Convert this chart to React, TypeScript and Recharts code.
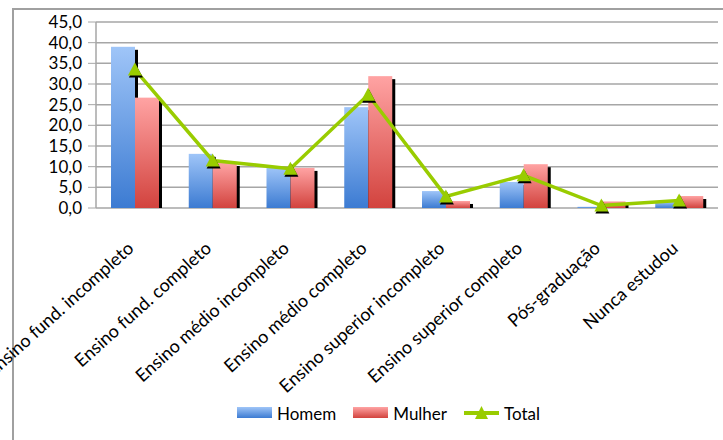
import React from 'react';
import { ComposedChart, Bar, Line, XAxis, YAxis, CartesianGrid, Legend } from 'recharts';

// Values (percent)
const categories = [
  'Ensino fund. incompleto',
  'Ensino fund. completo',
  'Ensino médio incompleto',
  'Ensino médio completo',
  'Ensino superior incompleto',
  'Ensino superior completo',
  'Pós-graduação',
  'Nunca estudou',
];
const homem = [39.0, 13.1, 9.9, 24.4, 4.1, 6.3, 0.3, 1.5];
const mulher = [26.7, 10.9, 9.7, 31.9, 1.7, 10.6, 1.6, 2.9];
const total = [33.5, 11.5, 9.5, 27.4, 2.8, 7.9, 0.6, 1.8];
const yTicks = [0, 5, 10, 15, 20, 25, 30, 35, 40, 45];
const edgeTicks = [0, 1, 2, 3, 4, 5, 6, 7, 8];

const data = categories.map((name, i) => ({
  name,
  homem: homem[i],
  mulher: mulher[i],
  total: total[i],
}));

const FONT = 'Lato, "Open Sans", sans-serif';
const GREEN = '#99cc00';
const GRID = '#a6a6a6';

const ShadowBar = (props: any) => {
  const { x, y, width, height, fill } = props;
  if (height <= 0) return null;
  return (
    <g>
      <rect x={x + 3} y={y + 3} width={width} height={Math.max(height - 3, 0)} fill="#000" />
      <rect x={x} y={y} width={width} height={height} fill={fill} />
    </g>
  );
};

const TriangleDot = (props: any) => {
  const { cx, cy, index } = props;
  if (cx == null || cy == null) return null;
  const pts = (dx: number, dy: number) =>
    `${cx + dx},${cy - 7 + dy} ${cx - 7 + dx},${cy + 6 + dy} ${cx + 7 + dx},${cy + 6 + dy}`;
  return (
    <g key={`tri-${index}`}>
      <polygon points={pts(1, 2)} fill="#000" />
      <polygon points={pts(0, 0)} fill={GREEN} />
    </g>
  );
};

const CategoryTick = (props: any) => {
  const { x, y, payload } = props;
  const ty = y + 34;
  return (
    <text
      x={x}
      y={ty}
      transform={`rotate(-42, ${x}, ${ty})`}
      textAnchor="end"
      fontSize={18}
      fontFamily={FONT}
      fill="#000"
    >
      {payload.value}
    </text>
  );
};

const legendItems = [
  { key: 'homem', label: 'Homem' },
  { key: 'mulher', label: 'Mulher' },
  { key: 'total', label: 'Total' },
];

const LegendContent = () => (
  <div
    style={{
      display: 'flex',
      justifyContent: 'center',
      alignItems: 'center',
      height: 30,
      paddingLeft: 76,
      fontFamily: FONT,
      fontSize: 17,
      color: '#000',
    }}
  >
    {legendItems.map((it) => (
      <div key={it.key} style={{ display: 'flex', alignItems: 'center', marginRight: 17 }}>
        <svg width={35} height={14} style={{ marginRight: 5 }}>
          {it.key === 'total' ? (
            <g>
              <line x1={0} y1={7} x2={35} y2={7} stroke={GREEN} strokeWidth={4} />
              <polygon points="17.5,0 11,13 24,13" fill={GREEN} />
            </g>
          ) : (
            <rect x={0} y={1} width={35} height={11} fill={`url(#lg-${it.key})`} />
          )}
        </svg>
        <span>{it.label}</span>
      </div>
    ))}
  </div>
);

export default function App() {
  return (
    <div
      style={{
        position: 'absolute',
        left: 0,
        top: 0,
        width: 723,
        height: 440,
        overflow: 'hidden',
        background: '#fff',
      }}
    >
      <svg width={0} height={0} style={{ position: 'absolute' }}>
        <defs>
          <linearGradient id="lg-homem" x1="0" y1="0" x2="0" y2="1">
            <stop offset="0%" stopColor="#9fc5f8" />
            <stop offset="100%" stopColor="#3c7bd2" />
          </linearGradient>
          <linearGradient id="lg-mulher" x1="0" y1="0" x2="0" y2="1">
            <stop offset="0%" stopColor="#ffa3a3" />
            <stop offset="100%" stopColor="#d2433e" />
          </linearGradient>
        </defs>
      </svg>
      <div
        style={{
          position: 'absolute',
          left: 12,
          top: 8,
          width: 900,
          height: 700,
          border: '2px solid #a0a0a0',
        }}
      />
      <div style={{ position: 'absolute', left: 0, top: 0 }}>
        <ComposedChart
          width={723}
          height={440}
          data={data}
          margin={{ top: 22, right: 5, left: 0, bottom: 12 }}
          barCategoryGap={15}
          barGap={0}
        >
          <defs>
            <linearGradient id="gradHomem" x1="0" y1="0" x2="0" y2="1">
              <stop offset="0%" stopColor="#9fc5f8" />
              <stop offset="100%" stopColor="#3c7bd2" />
            </linearGradient>
            <linearGradient id="gradMulher" x1="0" y1="0" x2="0" y2="1">
              <stop offset="0%" stopColor="#ffa3a3" />
              <stop offset="100%" stopColor="#d2433e" />
            </linearGradient>
          </defs>
          <CartesianGrid vertical={false} stroke={GRID} strokeWidth={1.5} />
          <XAxis
            xAxisId="edges"
            type="number"
            domain={[0, 8]}
            ticks={edgeTicks}
            height={0}
            tickSize={6}
            tick={false}
            axisLine={{ stroke: GRID, strokeWidth: 1.5 }}
            tickLine={{ stroke: GRID }}
          />
          <XAxis
            dataKey="name"
            height={190}
            interval={0}
            axisLine={false}
            tickLine={false}
            tick={<CategoryTick />}
          />
          <YAxis
            width={96}
            domain={[0, 45]}
            ticks={yTicks}
            tickSize={8}
            tickMargin={6}
            interval={0}
            tickFormatter={(v: number) => v.toFixed(1).replace('.', ',')}
            tick={{ fontSize: 17, fontFamily: FONT, fill: '#000' }}
            axisLine={{ stroke: GRID, strokeWidth: 1.5 }}
            tickLine={{ stroke: GRID }}
          />
          <Bar dataKey="homem" name="Homem" fill="url(#gradHomem)" shape={<ShadowBar />} isAnimationActive={false} />
          <Bar dataKey="mulher" name="Mulher" fill="url(#gradMulher)" shape={<ShadowBar />} isAnimationActive={false} />
          <Line
            dataKey="total"
            name="Total"
            type="linear"
            stroke={GREEN}
            strokeWidth={3.5}
            dot={<TriangleDot />}
            activeDot={false}
            isAnimationActive={false}
          />
          <Legend verticalAlign="bottom" content={<LegendContent />} wrapperStyle={{ height: 30 }} />
        </ComposedChart>
      </div>
    </div>
  );
}
